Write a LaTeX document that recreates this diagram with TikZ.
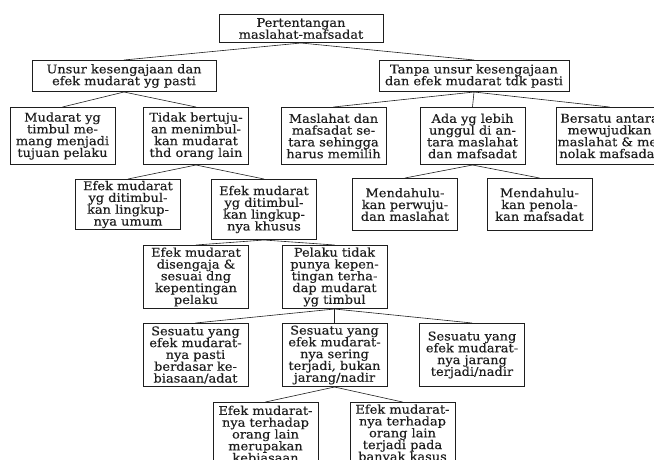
\documentclass[tikz,border=0pt]{standalone}
\usepackage{fontspec}
\setmainfont{DejaVu Serif}[FakeStretch=1.08, FakeBold=0.4]
\usepackage{tikz}
\definecolor{mfLine}{HTML}{1E1E1E}
\tikzset{
  mfnode/.style={
    draw=mfLine, line width=1pt, anchor=north, align=center,
    inner sep=1.5pt, minimum width=105pt, text=mfLine,
    font=\fontsize{12}{11.8}\selectfont
  },
  mfbox/.style={mfnode, minimum height=57pt},
  mftall/.style={mfnode, minimum height=63pt},
  mflink/.style={draw=mfLine, line width=0.6pt}
}

\begin{document}
\begin{tikzpicture}[x=1pt, y=1pt]
  \useasboundingbox (0,0) rectangle (654,-459);
  \clip (0,0) rectangle (654,-459);
  % root and first split
  \node[mfnode, minimum width=164pt, minimum height=28pt] (root) at (301,-14) {Pertentangan\\maslahat-mafsadat};
  \node[mfnode, minimum width=184pt, minimum height=31pt] (sengaja) at (124,-60) {Unsur kesengajaan dan\\efek mudarat yg pasti};
  \node[mfnode, minimum width=190pt, minimum height=31pt] (tanpa) at (474,-60) {Tanpa unsur kesengajaan\\dan efek mudarat tdk pasti};
  % second level
  \node[mfbox] (tujuan) at (62.5,-107) {Mudarat yg\\timbul me-\\mang menjadi\\tujuan pelaku};
  \node[mfbox] (tidak) at (196,-107) {Tidak bertuju-\\an menimbul-\\kan mudarat\\thd orang lain};
  \node[mfbox] (setara) at (333.5,-107) {Maslahat dan\\mafsadat se-\\tara sehingga\\harus memilih};
  \node[mfbox] (unggul) at (472.5,-107) {Ada yg lebih\\unggul di an-\\tara maslahat\\dan mafsadat};
  \node[mfbox] (bersatu) at (609.5,-107) {Bersatu antara\\mewujudkan\\maslahat \& me-\\nolak mafsadat};
  % third level
  \node[mfnode, minimum height=50pt] (umum) at (128,-179) {Efek mudarat\\yg ditimbul-\\kan lingkup-\\nya umum};
  \node[mfnode, minimum height=60pt] (khusus) at (264,-179) {Efek mudarat\\yg ditimbul-\\kan lingkup-\\nya khusus};
  \node[mfnode, minimum height=52pt] (wujud) at (405,-178) {Mendahulu-\\kan perwuju-\\dan maslahat};
  \node[mfnode, minimum height=52pt] (tolak) at (539.5,-178) {Mendahulu-\\kan penola-\\kan mafsadat};
  % fourth level
  \node[mftall] (sesuai) at (196,-245) {Efek mudarat\\disengaja \&\\sesuai dng\\kepentingan\\pelaku};
  \node[mftall] (pelaku) at (334.5,-245) {Pelaku tidak\\punya kepen-\\tingan terha-\\dap mudarat\\yg timbul};
  % fifth level
  \node[mftall] (pasti) at (195.5,-323) {Sesuatu yang\\efek mudarat-\\nya pasti\\berdasar ke-\\biasaan/adat};
  \node[mftall] (sering) at (334.5,-323) {Sesuatu yang\\efek mudarat-\\nya sering\\terjadi, bukan\\jarang/nadir};
  \node[mftall] (jarang) at (472,-323) {Sesuatu yang\\efek mudarat-\\nya jarang\\terjadi/nadir};
  % sixth level
  \node[mftall] (biasa) at (265.5,-402) {Efek mudarat-\\nya terhadap\\orang lain\\merupakan\\kebiasaan};
  \node[mftall] (kasus) at (402.5,-402) {Efek mudarat-\\nya terhadap\\orang lain\\terjadi pada\\banyak kasus};
  % connectors
  \draw[mflink] (root.south) -- (sengaja.north); \draw[mflink] (root.south) -- (tanpa.north);
  \draw[mflink] (sengaja.south) -- (tujuan.north); \draw[mflink] (sengaja.south) -- (tidak.north);
  \draw[mflink] (tanpa.south) -- (setara.north); \draw[mflink] (tanpa.south) -- (unggul.north); \draw[mflink] (tanpa.south) -- (bersatu.north);
  \draw[mflink] (tidak.south) -- (umum.north); \draw[mflink] (tidak.south) -- (khusus.north);
  \draw[mflink] (unggul.south) -- (wujud.north); \draw[mflink] (unggul.south) -- (tolak.north);
  \draw[mflink] (khusus.south) -- (sesuai.north); \draw[mflink] (khusus.south) -- (pelaku.north);
  \draw[mflink] (pelaku.south) -- (pasti.north); \draw[mflink] (pelaku.south) -- (sering.north); \draw[mflink] (pelaku.south) -- (jarang.north);
  \draw[mflink] (sering.south) -- (biasa.north); \draw[mflink] (sering.south) -- (kasus.north);
\end{tikzpicture}
\end{document}
